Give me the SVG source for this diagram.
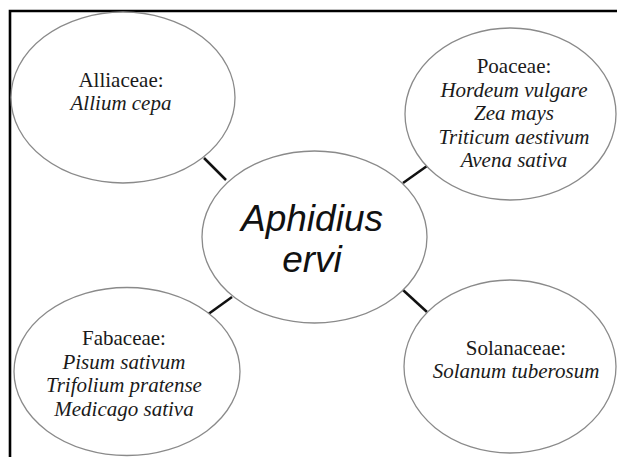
<svg xmlns="http://www.w3.org/2000/svg" width="617" height="457" viewBox="0 0 617 457">
<style>
.node ellipse{fill:#ffffff;stroke:#8a8a8a;stroke-width:1.3}
.t{font-family:"Liberation Serif","Times New Roman",serif;font-size:21px;fill:#1a1a1a;text-anchor:middle}
.i{font-style:italic}
.c{font-family:"Liberation Sans",Arial,sans-serif;font-size:37px;font-style:italic;fill:#111;text-anchor:middle}
.conn line{stroke:#111;stroke-width:2.5}
</style>
<rect width="617" height="457" fill="#ffffff"/>
<path d="M10,457 V11 H617" fill="none" stroke="#000" stroke-width="2.6"/>
<g id="connectors" class="conn">
<line x1="204" y1="158" x2="226" y2="180"/>
<line x1="403" y1="183" x2="427" y2="166"/>
<line x1="207" y1="315" x2="232" y2="297"/>
<line x1="403" y1="290" x2="427" y2="312"/>
</g>
<g id="alliaceae" class="node">
<ellipse cx="123" cy="97.5" rx="112" ry="85.5"/>
<text class="t" x="121" y="87">Alliaceae:</text>
<text class="t i" x="121" y="110">Allium cepa</text>
</g>
<g id="poaceae" class="node">
<ellipse cx="510.5" cy="114" rx="105.5" ry="86"/>
<text class="t" x="514" y="73">Poaceae:</text>
<text class="t i" x="514" y="96.5">Hordeum vulgare</text>
<text class="t i" x="514" y="120">Zea mays</text>
<text class="t i" x="514" y="143.5">Triticum aestivum</text>
<text class="t i" x="514" y="167">Avena sativa</text>
</g>
<g id="aphidius" class="node">
<ellipse cx="314.5" cy="237" rx="112.5" ry="86"/>
<text class="c" x="312" y="231">Aphidius</text>
<text class="c" x="312" y="272">ervi</text>
</g>
<g id="fabaceae" class="node">
<ellipse cx="127" cy="371.5" rx="113" ry="84"/>
<text class="t" x="124" y="345">Fabaceae:</text>
<text class="t i" x="124" y="368.5">Pisum sativum</text>
<text class="t i" x="124" y="392">Trifolium pratense</text>
<text class="t i" x="124" y="415.5">Medicago sativa</text>
</g>
<g id="solanaceae" class="node">
<ellipse cx="510" cy="366.5" rx="106" ry="86.5"/>
<text class="t" x="516" y="355">Solanaceae:</text>
<text class="t i" x="516" y="378">Solanum tuberosum</text>
</g>
</svg>
